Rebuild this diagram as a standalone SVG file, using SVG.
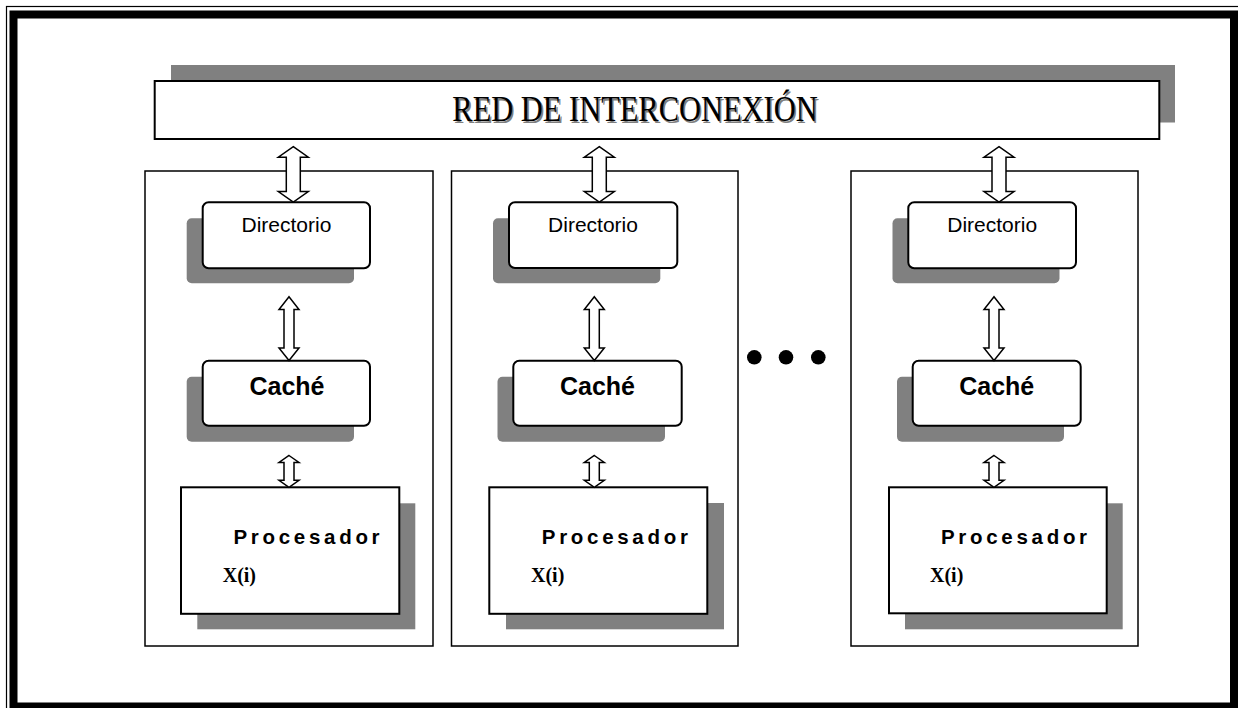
<svg xmlns="http://www.w3.org/2000/svg" width="1238" height="708" viewBox="0 0 1238 708">
  <style>
    .bg { fill: #ffffff; }
    .frame-thin { fill: none; stroke: #000; stroke-width: 1.2; }
    .frame-thick { fill: none; stroke: #000; stroke-width: 8; }
    .shadow { fill: #808080; stroke: none; }
    .box { fill: #ffffff; stroke: #000; stroke-width: 2; }
    .col { fill: #ffffff; stroke: #000; stroke-width: 1.5; }
    .arrow { fill: #ffffff; stroke: #000; stroke-width: 1.5; stroke-linejoin: miter; }
    .title { font-family: "Liberation Serif", "Times New Roman", serif; font-size: 35px; }
    .dir { font-family: "Liberation Sans", Arial, sans-serif; font-size: 21px; fill: #000; text-anchor: middle; }
    .cache { font-family: "Liberation Sans", Arial, sans-serif; font-size: 25px; font-weight: bold; fill: #000; text-anchor: middle; }
    .proc { font-family: "Liberation Sans", Arial, sans-serif; font-size: 20.5px; font-weight: bold; letter-spacing: 3.7px; fill: #000; }
    .xi { font-family: "Liberation Serif", "Times New Roman", serif; font-size: 20px; font-weight: bold; fill: #000; }
    .dot { fill: #000; }
  </style>
  <defs>
    <!-- double-headed block arrows, centred on x = 0 -->
    <polygon id="arrow-top" points="0,146.7 15,157.2 7,157.2 7,191.5 15,191.5 0,202 -15,191.5 -7,191.5 -7,157.2 -15,157.2"/>
    <polygon id="arrow-mid" points="0,296.7 10,309.5 5,309.5 5,348 10,348 0,360.5 -10,348 -5,348 -5,309.5 -10,309.5"/>
    <polygon id="arrow-low" points="0,455.5 10,462.5 5,462.5 5,480.3 10,480.3 0,487.3 -10,480.3 -5,480.3 -5,462.5 -10,462.5"/>
  </defs>

  <rect class="bg" x="0" y="0" width="1238" height="708"/>

  <!-- page border -->
  <g id="border">
    <rect class="frame-thin" x="6.5" y="6.5" width="1240" height="720"/>
    <rect class="frame-thick" x="13.5" y="14.5" width="1220.5" height="692"/>
  </g>

  <!-- interconnection network -->
  <g id="red">
    <rect class="shadow" x="171" y="65" width="1004" height="57.5"/>
    <rect class="box" x="154.7" y="81" width="1004.6" height="58"/>
    <g transform="translate(635 121) scale(0.87 1)">
      <text class="title" x="1.8" y="1.6" text-anchor="middle" fill="#808080">RED DE INTERCONEXIÓN</text>
      <text class="title" x="0" y="0" text-anchor="middle" fill="#000">RED DE INTERCONEXIÓN</text>
    </g>
  </g>

  <!-- node 1 -->
  <g id="nodo1">
    <rect class="col" x="145" y="171" width="288" height="475"/>
    <g id="dir1">
      <rect class="shadow" x="186.7" y="218.3" width="167.3" height="65" rx="5"/>
      <rect class="box" x="202.7" y="202.3" width="167.3" height="66" rx="6"/>
      <text class="dir" x="286.4" y="232">Directorio</text>
    </g>
    <g id="cache1">
      <rect class="shadow" x="186.7" y="376.7" width="167.3" height="65" rx="5"/>
      <rect class="box" x="202.7" y="360.7" width="167.3" height="65" rx="6"/>
      <text class="cache" x="287" y="395">Caché</text>
    </g>
    <g id="proc1">
      <rect class="shadow" x="197.3" y="503.3" width="218" height="126"/>
      <rect class="box" x="181" y="487.3" width="218.3" height="126.5"/>
      <text class="proc" x="233.5" y="544">Procesador</text>
      <text class="xi" x="222.7" y="581.7">X(i)</text>
    </g>
  </g>

  <!-- node 2 -->
  <g id="nodo2">
    <rect class="col" x="451.5" y="171" width="286.5" height="475"/>
    <g id="dir2">
      <rect class="shadow" x="493" y="218.3" width="167.3" height="65" rx="5"/>
      <rect class="box" x="509" y="202.3" width="168.3" height="65.7" rx="6"/>
      <text class="dir" x="593" y="232">Directorio</text>
    </g>
    <g id="cache2">
      <rect class="shadow" x="497.5" y="376.7" width="167.5" height="65" rx="5"/>
      <rect class="box" x="513.3" y="360.7" width="168.4" height="65" rx="6"/>
      <text class="cache" x="597.5" y="395">Caché</text>
    </g>
    <g id="proc2">
      <rect class="shadow" x="506" y="503" width="218" height="126.3"/>
      <rect class="box" x="489.3" y="487.3" width="218" height="126.5"/>
      <text class="proc" x="541.8" y="544">Procesador</text>
      <text class="xi" x="531" y="581.7">X(i)</text>
    </g>
  </g>

  <!-- ellipsis between nodes -->
  <g id="puntos">
    <circle class="dot" cx="754.3" cy="357.3" r="7.3"/>
    <circle class="dot" cx="786" cy="357.3" r="7.3"/>
    <circle class="dot" cx="818.3" cy="357.3" r="7.3"/>
  </g>

  <!-- node n -->
  <g id="nodo3">
    <rect class="col" x="851" y="171" width="287" height="475"/>
    <g id="dir3">
      <rect class="shadow" x="892.5" y="218.3" width="167" height="65" rx="5"/>
      <rect class="box" x="908.3" y="202.3" width="167.7" height="66" rx="6"/>
      <text class="dir" x="992.2" y="232">Directorio</text>
    </g>
    <g id="cache3">
      <rect class="shadow" x="897" y="376.7" width="167" height="65" rx="5"/>
      <rect class="box" x="912.7" y="360.7" width="168" height="65" rx="6"/>
      <text class="cache" x="996.7" y="395">Caché</text>
    </g>
    <g id="proc3">
      <rect class="shadow" x="905" y="503.3" width="217.7" height="126"/>
      <rect class="box" x="889" y="487.3" width="217.7" height="126"/>
      <text class="proc" x="941" y="543.5">Procesador</text>
      <text class="xi" x="930" y="581.7">X(i)</text>
    </g>
  </g>

  <!-- connectors -->
  <g id="conectores" class="arrow">
    <use href="#arrow-top" x="293.3"/>
    <use href="#arrow-mid" x="289"/>
    <use href="#arrow-low" x="289"/>
    <use href="#arrow-top" x="599.3"/>
    <use href="#arrow-mid" x="594.3"/>
    <use href="#arrow-low" x="594.3"/>
    <use href="#arrow-top" x="999"/>
    <use href="#arrow-mid" x="994"/>
    <use href="#arrow-low" x="994"/>
  </g>
</svg>
